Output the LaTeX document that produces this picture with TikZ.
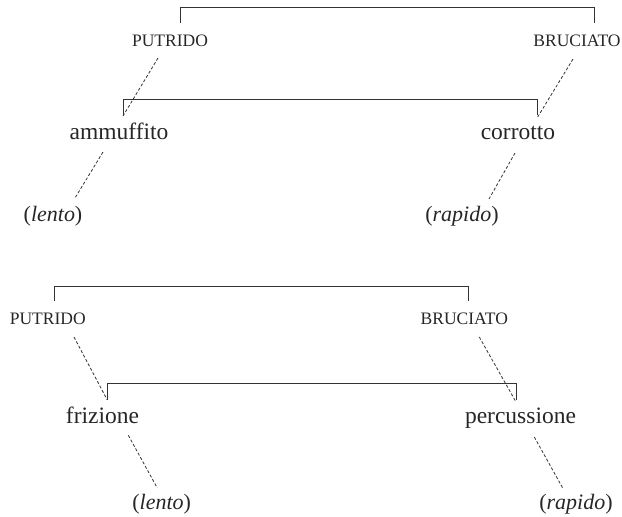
\documentclass[tikz,border=0pt]{standalone}
\usepackage{fontspec}
\setmainfont{Liberation Serif}
\begin{document}
\begin{tikzpicture}[x=1pt,y=-1pt,
  capword/.style={font=\fontsize{17.5}{20}\selectfont, anchor=base, inner sep=0pt, text=black!85},
  word/.style={font=\fontsize{23.5}{26}\selectfont, anchor=base, inner sep=0pt, text=black!85},
  gloss/.style={font=\fontsize{22}{24}\selectfont, anchor=base, inner sep=0pt, text=black!85},
  bracket/.style={draw=black!80, line width=1pt},
  link/.style={draw=black!80, line width=0.8pt, dash pattern=on 3pt off 2pt}]
\useasboundingbox (0,0) rectangle (622,517);

% ---------- upper diagram ----------
\node[capword] (p1) at (170,46) {PUTRIDO};
\node[capword] (b1) at (577,46) {BRUCIATO};
\node[word] (am) at (119,139) {ammuffito};
\node[word] (co) at (518,139) {corrotto};
\node[gloss] (l1) at (53,221) {(\textit{lento})};
\node[gloss] (r1) at (462,221) {(\textit{rapido})};

\coordinate (ta) at (180,23);
\coordinate (tb) at (594,23);
\draw[bracket] (ta) -- ++(0,-15.5) -| (tb);
\coordinate (sa) at (123,115);
\coordinate (sb) at (537.7,115);
\draw[bracket] (sa) -- ++(0,-16) -| (sb);

\coordinate (p1e) at (158,58);
\coordinate (p1f) at (123,116);
\draw[link] (p1e) -- (p1f);
\coordinate (b1e) at (573,59);
\coordinate (b1f) at (537.7,117);
\draw[link] (b1e) -- (b1f);
\coordinate (ame) at (103,152);
\coordinate (l1e) at (75,198);
\draw[link] (ame) -- (l1e);
\coordinate (coe) at (515,153);
\coordinate (r1e) at (489,199);
\draw[link] (coe) -- (r1e);

% ---------- lower diagram ----------
\node[capword] (p2) at (47.8,324.7) {PUTRIDO};
\node[capword] (b2) at (464.3,324.7) {BRUCIATO};
\node[word] (fr) at (102.5,423) {frizione};
\node[word] (pe) at (520.5,423.5) {percussione};
\node[gloss] (l2) at (161.7,509) {(\textit{lento})};
\node[gloss] (r2) at (576,509) {(\textit{rapido})};

\coordinate (ua) at (54.3,301);
\coordinate (ub) at (468.7,301);
\draw[bracket] (ua) -- ++(0,-14.7) -| (ub);
\coordinate (va) at (107.3,399.7);
\coordinate (vb) at (516,399.7);
\draw[bracket] (va) -- ++(0,-16.7) -| (vb);

\coordinate (p2e) at (74,337);
\coordinate (p2f) at (107.3,400);
\draw[link] (p2e) -- (p2f);
\coordinate (b2e) at (479.3,337);
\coordinate (b2f) at (516,402);
\draw[link] (b2e) -- (b2f);
\coordinate (fre) at (128.3,435.3);
\coordinate (l2e) at (157.3,488);
\draw[link] (fre) -- (l2e);
\coordinate (pee) at (534.3,437);
\coordinate (r2e) at (562.7,488);
\draw[link] (pee) -- (r2e);
\end{tikzpicture}
\end{document}
